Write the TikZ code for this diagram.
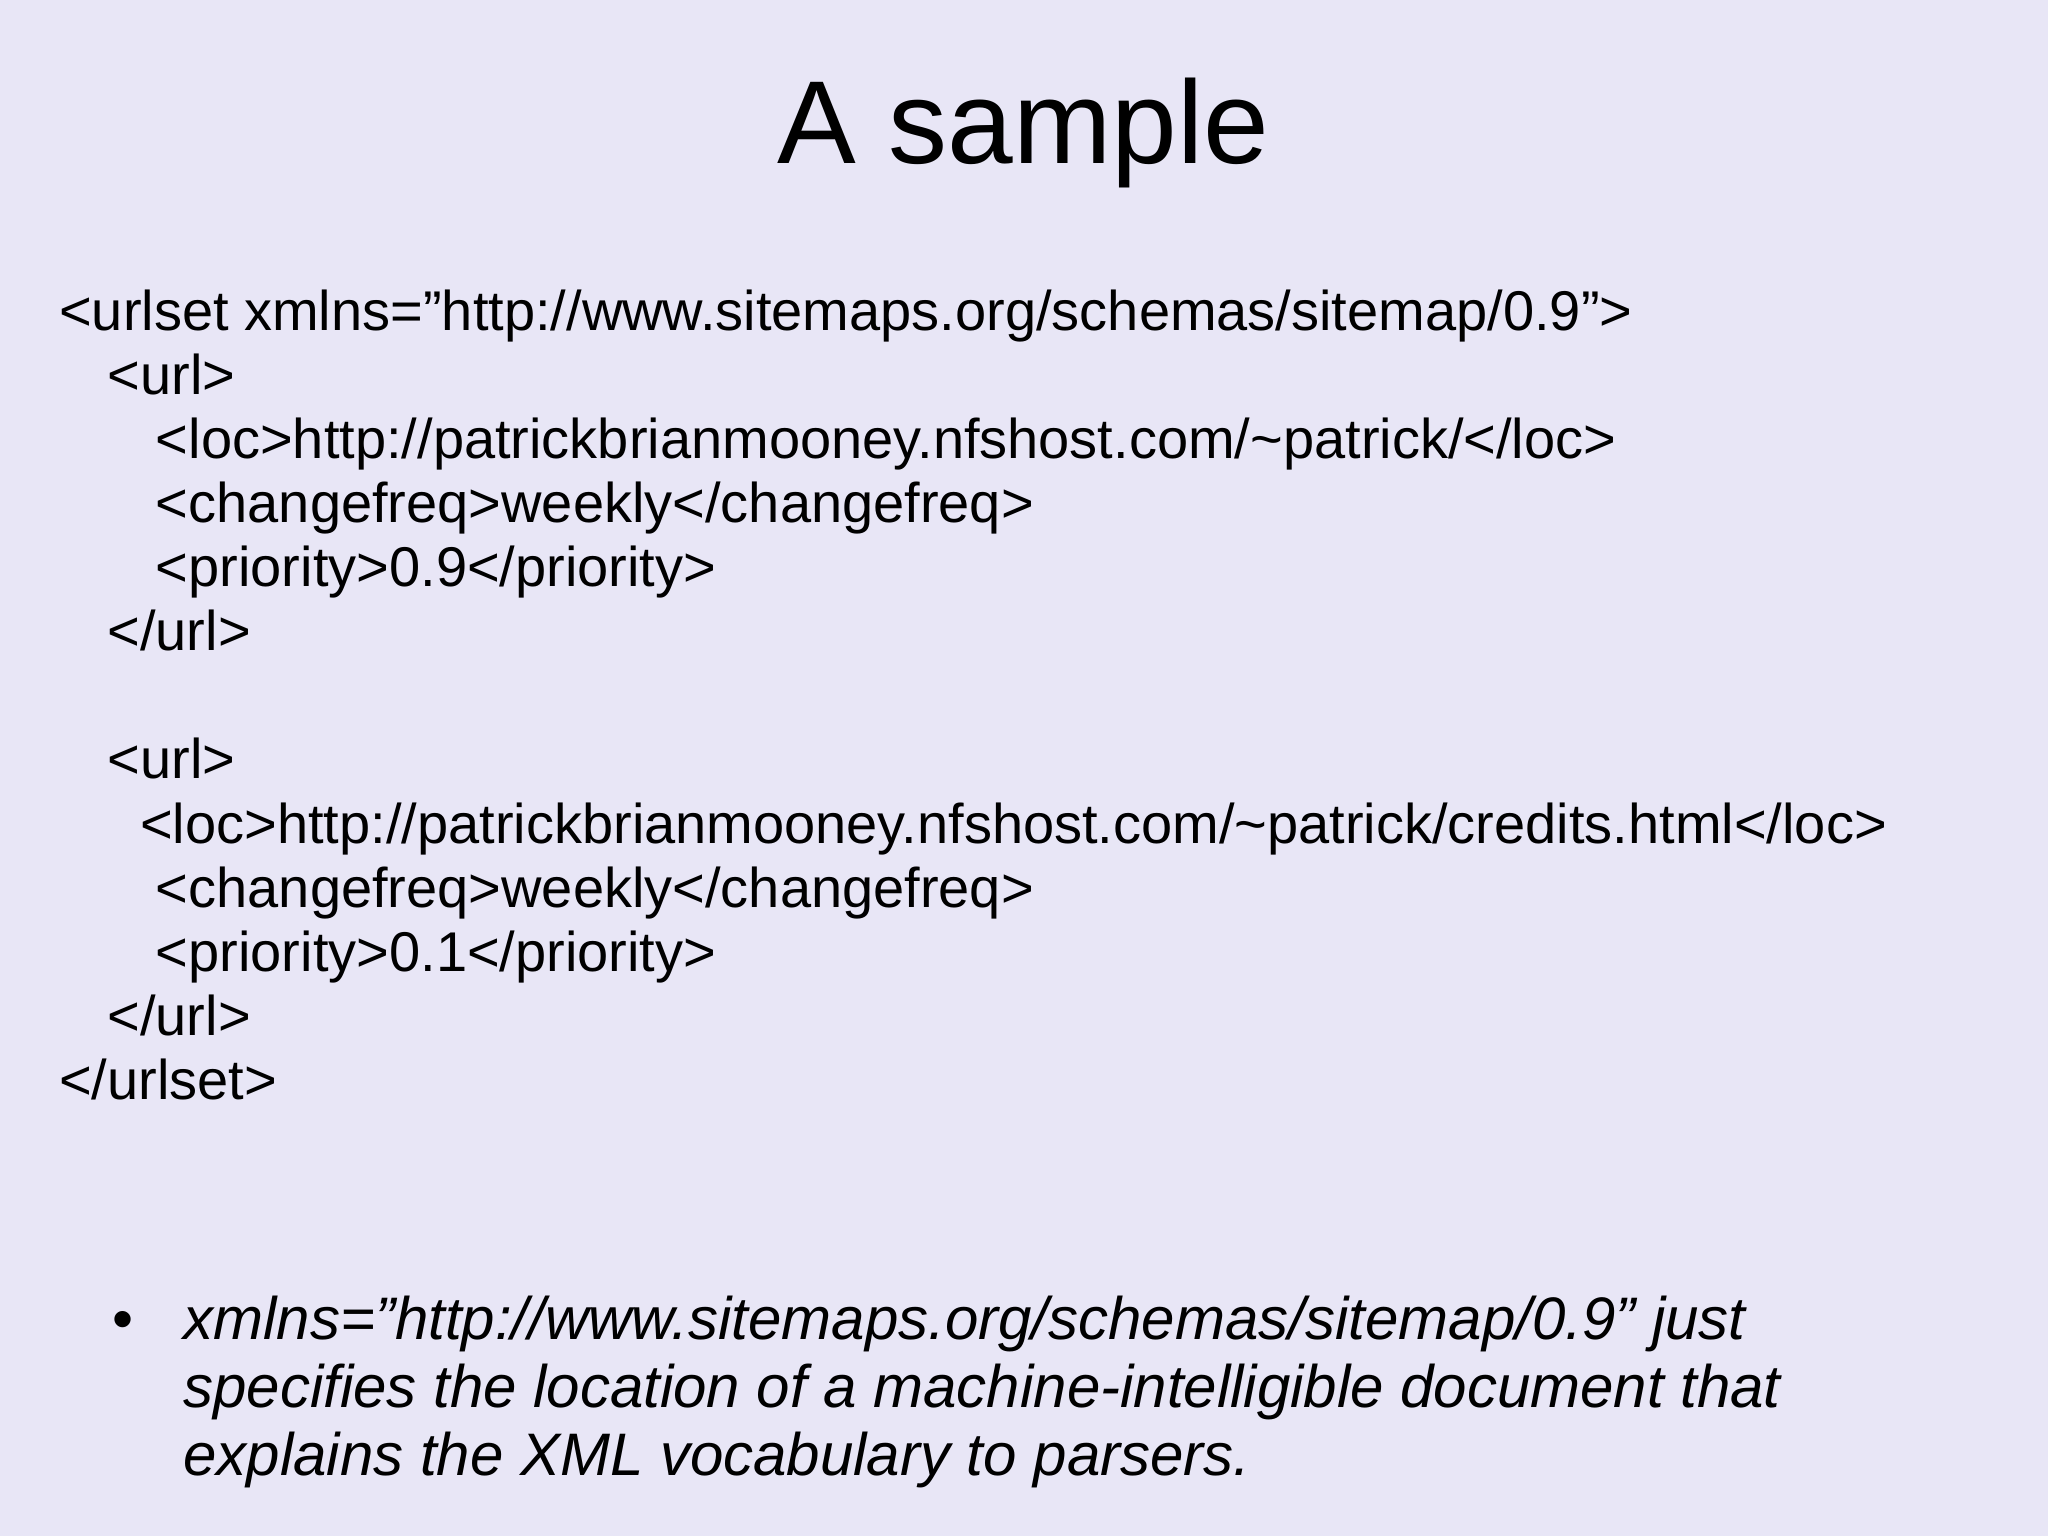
\documentclass[tikz,border=0pt]{standalone}
\usepackage{fontspec}
\setmainfont{Liberation Sans}
\begin{document}
\begin{tikzpicture}[x=0.6535pt,y=-0.6535pt,
  code/.style={anchor=base west,inner sep=0pt,font=\fontsize{28}{32}\selectfont},
  bul/.style={anchor=base west,inner sep=0pt,font=\fontsize{30}{34}\selectfont\itshape}]
\fill[fill={rgb,255:red,232;green,230;blue,246}] (0,0) rectangle (1567,1175);
\useasboundingbox (0,0) rectangle (1567,1175);
\node[anchor=base,inner sep=0pt,font=\fontsize{59}{64}\selectfont] (title) at (783,125) {A sample};
\node[code] (l1) at (45,253) {<urlset xmlns="http://www.sitemaps.org/schemas/sitemap/0.9">};
\node[code] (l2) at (82,302) {<url>};
\node[code] (l3) at (119,351) {<loc>http://patrickbrianmooney.nfshost.com/\string~patrick/</loc>};
\node[code] (l4) at (119,400) {<changefreq>weekly</changefreq>};
\node[code] (l5) at (119,449) {<priority>0.9</priority>};
\node[code] (l6) at (82,498) {</url>};
\node[code] (l7) at (82,596) {<url>};
\node[code] (l8) at (107,645) {<loc>http://patrickbrianmooney.nfshost.com/\string~patrick/credits.html</loc>};
\node[code] (l9) at (119,694) {<changefreq>weekly</changefreq>};
\node[code] (l10) at (119,743) {<priority>0.1</priority>};
\node[code] (l11) at (82,792) {</url>};
\node[code] (l12) at (45,841) {</urlset>};
\node[anchor=base west,inner sep=0pt,font=\fontsize{30}{34}\selectfont] (dot) at (86,1025) {\textbullet};
\node[bul] (b1) at (140,1025) {xmlns="http://www.sitemaps.org/schemas/sitemap/0.9" just};
\node[bul] (b2) at (140,1077) {specifies the location of a machine-intelligible document that};
\node[bul] (b3) at (140,1129) {explains the XML vocabulary to parsers.};
\end{tikzpicture}
\end{document}
